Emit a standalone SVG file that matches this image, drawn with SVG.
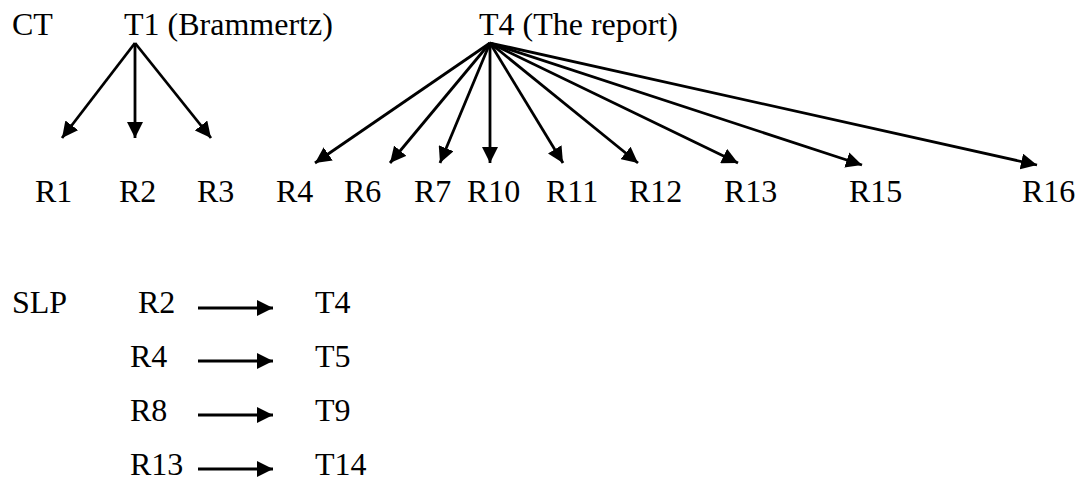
<svg xmlns="http://www.w3.org/2000/svg" width="1085" height="480" viewBox="0 0 1085 480">
  <defs>
    <style>
      .lbl { font-family: "Liberation Serif", "Times New Roman", serif; font-size: 32px; fill: #000; }
      .edge { stroke: #000; stroke-width: 2.8; fill: none; marker-end: url(#head); }
    </style>
    <marker id="head" markerUnits="userSpaceOnUse" markerWidth="17" markerHeight="16" refX="16" refY="8" orient="auto">
      <path d="M0,0 L16,8 L0,16 z" fill="#000"/>
    </marker>
  </defs>
  <rect width="1085" height="480" fill="#fff"/>

  <!-- section labels -->
  <g id="ct-label"><text class="lbl" x="12" y="35">CT</text></g>
  <g id="slp-label"><text class="lbl" x="12" y="313">SLP</text></g>

  <!-- CT tree: sources -->
  <g id="t1"><text class="lbl" x="124" y="35">T1 (Brammertz)</text></g>
  <g id="t4"><text class="lbl" x="479" y="35">T4 (The report)</text></g>

  <!-- CT tree: targets -->
  <g id="r1"><text class="lbl" x="35" y="202">R1</text></g>
  <g id="r2"><text class="lbl" x="119" y="202">R2</text></g>
  <g id="r3"><text class="lbl" x="197" y="202">R3</text></g>
  <g id="r4"><text class="lbl" x="276" y="202">R4</text></g>
  <g id="r6"><text class="lbl" x="344" y="202">R6</text></g>
  <g id="r7"><text class="lbl" x="414" y="202">R7</text></g>
  <g id="r10"><text class="lbl" x="467" y="202">R10</text></g>
  <g id="r11"><text class="lbl" x="546" y="202">R11</text></g>
  <g id="r12"><text class="lbl" x="629" y="202">R12</text></g>
  <g id="r13"><text class="lbl" x="724" y="202">R13</text></g>
  <g id="r15"><text class="lbl" x="849" y="202">R15</text></g>
  <g id="r16"><text class="lbl" x="1022" y="202">R16</text></g>

  <!-- SLP mappings -->
  <g id="slp-r2"><text class="lbl" x="138" y="313">R2</text></g>
  <g id="slp-t4"><text class="lbl" x="315" y="313">T4</text></g>
  <g id="slp-r4"><text class="lbl" x="130" y="367">R4</text></g>
  <g id="slp-t5"><text class="lbl" x="315" y="367">T5</text></g>
  <g id="slp-r8"><text class="lbl" x="130" y="421">R8</text></g>
  <g id="slp-t9"><text class="lbl" x="315" y="421">T9</text></g>
  <g id="slp-r13"><text class="lbl" x="130" y="475">R13</text></g>
  <g id="slp-t14"><text class="lbl" x="315" y="475">T14</text></g>

  <!-- connectors -->
  <g id="connectors">
    <line class="edge" x1="135" y1="43" x2="62" y2="138"/>
    <line class="edge" x1="135" y1="43" x2="135" y2="138"/>
    <line class="edge" x1="135" y1="43" x2="211" y2="138"/>

    <line class="edge" x1="490" y1="43" x2="315" y2="163"/>
    <line class="edge" x1="490" y1="43" x2="390" y2="163"/>
    <line class="edge" x1="490" y1="43" x2="440" y2="163"/>
    <line class="edge" x1="490" y1="43" x2="490" y2="163"/>
    <line class="edge" x1="490" y1="43" x2="563" y2="163"/>
    <line class="edge" x1="490" y1="43" x2="638" y2="163"/>
    <line class="edge" x1="490" y1="43" x2="738" y2="163"/>
    <line class="edge" x1="490" y1="43" x2="862" y2="165"/>
    <line class="edge" x1="490" y1="43" x2="1037" y2="165"/>

    <line class="edge" x1="198" y1="308" x2="273" y2="308"/>
    <line class="edge" x1="198" y1="361" x2="273" y2="361"/>
    <line class="edge" x1="198" y1="415" x2="273" y2="415"/>
    <line class="edge" x1="198" y1="469" x2="273" y2="469"/>
  </g>
</svg>
